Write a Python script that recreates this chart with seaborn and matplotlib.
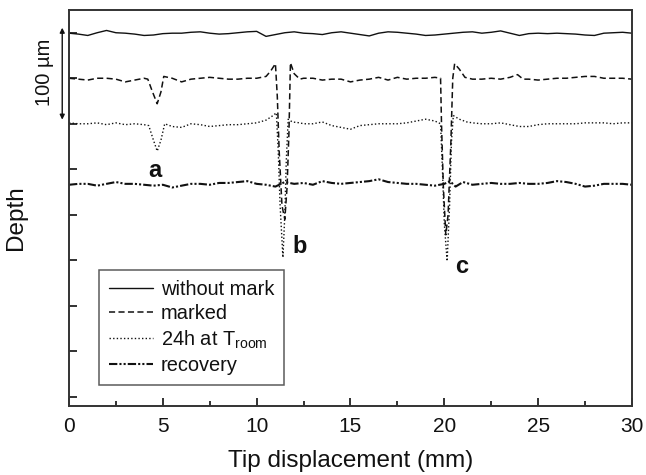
import matplotlib
matplotlib.use("Agg")
import matplotlib.pyplot as plt
from matplotlib.ticker import MultipleLocator, NullFormatter
import numpy as np
import pandas as pd
import seaborn as sns

# Surface profiles (depth in µm) along the tip displacement (mm)
x_without = [0.0, 0.5, 1.0, 1.5, 2.0, 2.5, 3.0, 3.5, 4.0, 4.5, 5.0, 5.5, 6.0, 6.5, 7.0,
             7.5, 8.0, 8.5, 9.0, 9.5, 10.0, 10.5, 11.0, 11.5, 12.0, 12.5, 13.0, 13.5,
             14.0, 14.5, 15.0, 15.5, 16.0, 16.5, 17.0, 17.5, 18.0, 18.5, 19.0, 19.5,
             20.0, 20.5, 21.0, 21.5, 22.0, 22.5, 23.0, 23.5, 24.0, 24.5, 25.0, 25.5,
             26.0, 26.5, 27.0, 27.5, 28.0, 28.5, 29.0, 29.5, 30.0]
d_without = [0.5, 1.5, 3.0, 0.0, -2.5, 0.0, 0.5, 1.5, 3.0, 2.5, 1.0, 0.5, 0.5, -0.5, -1.0,
             0.5, 1.5, 1.0, 0.0, -1.0, -1.5, 4.0, 2.0, 0.0, -1.0, 0.5, 1.0, 2.0,
             0.0, -1.0, 0.5, 2.0, 3.5, 0.5, -1.0, -0.5, 0.5, 1.5, 3.0, 2.5,
             1.5, 0.5, -0.5, -1.0, 0.5, -0.5, -2.0, 0.5, 3.0, 1.0, 0.5, 1.0,
             0.5, 1.0, 1.5, 2.5, 3.0, 0.5, 0.0, -0.5, 0.5]

x_marked = [0.0, 0.5, 1.0, 1.5, 2.0, 2.5, 3.0, 3.5, 4.0, 4.2, 4.45, 4.7, 4.9, 5.05, 5.5,
            6.0, 6.5, 7.0, 7.5, 8.0, 8.5, 9.0, 9.5, 10.0, 10.5, 10.75, 11.0, 11.1,
            11.2, 11.35, 11.5, 11.62, 11.72, 11.8, 12.0, 12.3, 12.5, 13.0, 13.5, 14.0,
            14.5, 15.0, 15.5, 16.0, 16.5, 17.0, 17.5, 18.0, 18.5, 19.0, 19.5, 19.8,
            19.85, 19.95, 20.08, 20.2, 20.35, 20.45, 20.55, 20.8, 21.1, 21.5, 22.0,
            22.5, 23.0, 23.5, 23.9, 24.2, 24.5, 25.0, 25.5, 26.0, 26.5, 27.0, 27.5,
            28.0, 28.5, 29.0, 29.5, 30.0]
d_marked = [50, 51, 52, 50, 50, 51, 54, 52, 50, 51, 65, 78, 65, 48, 50,
            54, 51, 50, 49, 50, 51, 51, 50, 50, 48, 42, 34, 70,
            130, 190, 205, 170, 110, 33, 45, 51, 50, 50, 52, 51,
            51, 54, 52, 51, 49, 52, 49, 51, 50, 50, 49, 50,
            100, 170, 222, 200, 120, 50, 34, 40, 49, 51, 51,
            50, 51, 49, 46, 51, 51, 52, 51, 50, 50, 49, 48,
            48, 50, 50, 50, 51]

x_24h = [0.0, 0.5, 1.0, 1.5, 2.0, 2.5, 3.0, 3.5, 4.0, 4.25, 4.5, 4.7, 4.9, 5.1, 5.5,
         6.0, 6.5, 7.0, 7.5, 8.0, 8.5, 9.0, 9.5, 10.0, 10.5, 10.8, 11.05, 11.15, 11.25,
         11.4, 11.5, 11.58, 11.68, 11.9, 12.3, 12.5, 13.0, 13.5, 14.0, 14.5, 15.0,
         15.5, 16.0, 16.5, 17.0, 17.5, 18.0, 18.5, 19.0, 19.5, 19.8, 19.9, 20.0,
         20.15, 20.28, 20.38, 20.48, 20.8, 21.2, 21.5, 22.0, 22.5, 23.0, 23.5, 24.0,
         24.5, 25.0, 25.5, 26.0, 26.5, 27.0, 27.5, 28.0, 28.5, 29.0, 29.5, 30.0]
d_24h = [99, 100, 100, 99, 101, 99, 101, 100, 101, 102, 118, 130, 118, 100, 103,
         104, 100, 101, 103, 102, 101, 101, 100, 99, 96, 92, 88, 130, 190,
         247, 200, 140, 95, 98, 99, 100, 100, 98, 102, 104, 106,
         102, 101, 100, 100, 100, 99, 97, 95, 97, 100, 150, 210,
         251, 190, 120, 91, 95, 98, 99, 100, 100, 99, 101, 103,
         103, 101, 100, 100, 100, 100, 99, 99, 99, 100, 99, 99]

x_recovery = [0.0, 0.5, 1.0, 1.5, 2.0, 2.5, 3.0, 3.5, 4.0, 4.5, 5.0, 5.5, 6.0, 6.5,
              7.0, 7.5, 8.0, 8.5, 9.0, 9.5, 10.0, 10.5, 11.0, 11.5, 12.0, 12.5, 13.0,
              13.5, 14.0, 14.5, 15.0, 15.5, 16.0, 16.5, 17.0, 17.5, 18.0, 18.5, 19.0,
              19.5, 20.0, 20.3, 20.6, 21.0, 21.5, 22.0, 22.5, 23.0, 23.5, 24.0, 24.5,
              25.0, 25.5, 26.0, 26.5, 27.0, 27.5, 28.0, 28.5, 29.0, 29.5, 30.0]
d_recovery = [167, 166, 166, 168, 166, 164, 166, 166, 167, 168, 167, 170, 168, 166,
              166, 167, 165, 165, 164, 163, 166, 167, 169, 164, 166, 165, 167,
              163, 165, 166, 165, 164, 163, 161, 164, 165, 166, 166, 167,
              168, 166, 163, 169, 164, 167, 166, 165, 166, 166, 165, 166,
              166, 165, 163, 164, 166, 169, 168, 166, 166, 166, 167]

series_names = ["without mark", "marked", "24h at T$_{\\mathregular{room}}$", "recovery"]

# Peak labels
mark_labels = ["a", "b", "c"]
mark_x = [4.58, 12.3, 20.95]
mark_depth = [159, 242, 264]

df = pd.concat([
    pd.DataFrame({"x": x_without, "depth": d_without, "series": series_names[0]}),
    pd.DataFrame({"x": x_marked, "depth": d_marked, "series": series_names[1]}),
    pd.DataFrame({"x": x_24h, "depth": d_24h, "series": series_names[2]}),
    pd.DataFrame({"x": x_recovery, "depth": d_recovery, "series": series_names[3]}),
], ignore_index=True)

sns.set_style("white")
plt.rcParams["font.family"] = ["Liberation Sans", "DejaVu Sans"]
plt.rcParams["mathtext.fontset"] = "custom"
plt.rcParams["mathtext.rm"] = "Liberation Sans"

fig = plt.figure(figsize=(6.46, 4.75), dpi=100)
ax = fig.add_axes([0.1068, 0.1453, 0.8715, 0.8337])

dash_map = {
    series_names[0]: "",
    series_names[1]: (4, 2.2),
    series_names[2]: (1, 1.6),
    series_names[3]: (4, 1.0, 1, 1.0, 1, 1.0),
}
sns.lineplot(data=df, x="x", y="depth", style="series", style_order=series_names,
             dashes=dash_map, color="#111111", estimator=None, sort=False,
             linewidth=1.0, legend=False, ax=ax)
lines = ax.get_lines()
lines[3].set_linewidth(1.5)
lines[1].set_linewidth(1.1)

ax.set_xlim(0, 30)
ax.set_ylim(410, -25)

ax.xaxis.set_major_locator(MultipleLocator(5))
ax.xaxis.set_minor_locator(MultipleLocator(2.5))
ax.yaxis.set_major_locator(MultipleLocator(50))
ax.yaxis.set_major_formatter(NullFormatter())
ax.tick_params(axis="x", which="major", direction="in", length=6, width=1.3,
               labelsize=15, pad=8, bottom=True, top=False, colors="#222222")
ax.tick_params(axis="x", which="minor", direction="in", length=3.5, width=1.3,
               bottom=True, top=False, colors="#222222")
ax.tick_params(axis="y", which="major", direction="in", length=6, width=1.3,
               left=True, right=False, colors="#222222")
ax.tick_params(axis="x", labelcolor="#111111")

for s in ax.spines.values():
    s.set_visible(True)
    s.set_color("#333333")
    s.set_linewidth(1.4)

ax.set_xlabel("Tip displacement (mm)", fontsize=17.5, color="#111111")
ax.set_ylabel("Depth", fontsize=17.5, color="#111111")
ax.xaxis.set_label_coords(0.5, -0.112)
ax.yaxis.set_label_coords(-0.074, 0.475)

for lab, mx, md in zip(mark_labels, mark_x, mark_depth):
    ax.text(mx, md, lab, fontsize=17, fontweight="bold", ha="center", va="baseline",
            color="#111111")

# 100 µm scale bar beside the axis
ax.annotate("", xy=(-0.012, -5.5), xytext=(-0.012, 95.5),
            xycoords=("axes fraction", "data"), textcoords=("axes fraction", "data"),
            arrowprops=dict(arrowstyle="<|-|>", color="#111111", lw=1.0,
                            mutation_scale=7, shrinkA=0, shrinkB=0),
            annotation_clip=False)
ax.text(-0.044, 43, "100 µm", transform=ax.get_yaxis_transform(), rotation=90,
        ha="center", va="center", fontsize=14.5, color="#111111", clip_on=False)

leg = ax.legend(handles=lines[:4], labels=series_names, loc="lower left",
                bbox_to_anchor=(0.053, 0.053), borderaxespad=0, fontsize=14.4,
                frameon=True, fancybox=False, handlelength=2.2, handletextpad=0.4,
                labelspacing=0.26, borderpad=0.5)
leg.get_frame().set_edgecolor("#333333")
leg.get_frame().set_linewidth(1.1)
for t in leg.get_texts():
    t.set_color("#111111")

fig.savefig("out.png", dpi=100)
